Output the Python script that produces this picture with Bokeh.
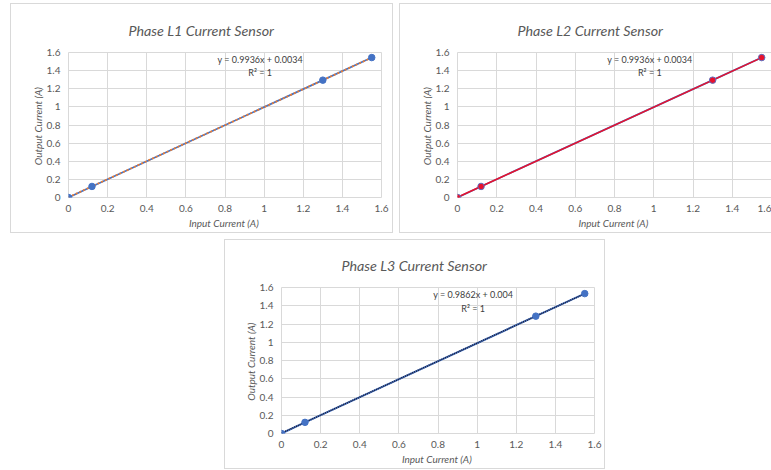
from bokeh.plotting import figure
from bokeh.layouts import column, row, Spacer
from bokeh.models import FixedTicker, Label
from bokeh.embed import file_html
from bokeh.resources import INLINE

# ---- data ----
input_current = [0.0, 0.12, 1.30, 1.55]
l1_output = [0.0, 0.122, 1.295, 1.544]
l2_output = [0.0, 0.122, 1.295, 1.544]
l3_output = [0.0, 0.122, 1.286, 1.533]

l1_slope, l1_intercept = 0.9936, 0.0034
l2_slope, l2_intercept = 0.9936, 0.0034
l3_slope, l3_intercept = 0.9862, 0.004

tick_values = [0, 0.2, 0.4, 0.6, 0.8, 1.0, 1.2, 1.4, 1.6]
tick_labels = ["0", "0.2", "0.4", "0.6", "0.8", "1", "1.2", "1.4", "1.6"]

titles = ["Phase L1 Current Sensor", "Phase L2 Current Sensor", "Phase L3 Current Sensor"]
eq_texts = ["y = 0.9936x + 0.0034", "y = 0.9936x + 0.0034", "y = 0.9862x + 0.004"]
r2_texts = ["R\u00b2 = 1", "R\u00b2 = 1", "R\u00b2 = 1"]
x_title = "Input Current  (A)"
y_title = "Output Current  (A)"

FONT = "Lato"
GRAY = "#595959"
GRID = "#d9d9d9"
BLUE = "#4472C4"


def make_panel(title, eq, r2, fw, fh, ml, mr, mt, mb, title_offset):
    styles = {"border": "1px solid #d9d9d9", "flex-shrink": "0"}
    p = figure(frame_width=fw, frame_height=fh, x_range=(0, 1.6), y_range=(0, 1.6),
               output_backend="svg", toolbar_location=None,
               min_border_left=ml, min_border_right=mr, min_border_top=mt, min_border_bottom=mb,
               background_fill_color="white", border_fill_color="white",
               outline_line_color=GRID, styles=styles)
    p.title.text = title
    p.title.align = "left"
    p.title.vertical_align = "top"
    p.title.offset = title_offset
    p.title.text_font = FONT
    p.title.text_font_style = "italic"
    p.title.text_font_size = "14.3px"
    p.title.text_color = GRAY
    p.title.standoff = 24
    for ax, lab in ((p.xaxis[0], x_title), (p.yaxis[0], y_title)):
        ax.ticker = FixedTicker(ticks=tick_values)
        ax.major_label_overrides = {v: t for v, t in zip(tick_values, tick_labels)}
        ax.axis_label = lab
        ax.axis_label_text_font = FONT
        ax.axis_label_text_font_style = "italic"
        ax.axis_label_text_font_size = "10px"
        ax.axis_label_text_color = GRAY
        ax.major_label_text_font = FONT
        ax.major_label_text_font_size = "10px"
        ax.major_label_text_color = GRAY
        ax.axis_line_color = None
        ax.major_tick_line_color = None
        ax.minor_tick_line_color = None
        ax.major_tick_out = 0
        ax.major_tick_in = 0
        ax.minor_tick_out = 0
        ax.minor_tick_in = 0
    p.xaxis.major_label_standoff = 7
    p.xaxis.axis_label_standoff = 2
    p.yaxis.major_label_standoff = 8
    p.yaxis.axis_label_standoff = 0
    p.xgrid.ticker = FixedTicker(ticks=tick_values)
    p.ygrid.ticker = FixedTicker(ticks=tick_values)
    p.grid.grid_line_color = GRID
    p.grid.grid_line_width = 1

    p.add_layout(Label(x=0.98, y=1.52, text=eq, text_align="center", text_baseline="middle",
                       text_font=FONT, text_font_size="9px", text_color="#404040"))
    p.add_layout(Label(x=0.98, y=1.375, text=r2, text_align="center", text_baseline="middle",
                       text_font=FONT, text_font_size="9px", text_color="#404040"))
    return p


def fit_line(slope, intercept):
    fx = [input_current[0], input_current[-1]]
    return fx, [slope * x + intercept for x in fx]


# Panel L1
p1 = make_panel(titles[0], eq_texts[0], r2_texts[0], 311, 143, 57, 13, 48, 37, 60)
p1.line(input_current, l1_output, line_color=BLUE, line_width=1.75)
fx, fy = fit_line(l1_slope, l1_intercept)
p1.line(fx, fy, line_color="#ED7D31", line_width=1.75, line_dash="2 2")
p1.scatter(input_current, l1_output, size=6.5, fill_color=BLUE, line_color=BLUE)

# Panel L2
p2 = make_panel(titles[1], eq_texts[1], r2_texts[1], 312, 143, 57, 2, 48, 37, 60)
p2.line(input_current, l2_output, line_color=BLUE, line_width=1.75)
fx, fy = fit_line(l2_slope, l2_intercept)
p2.line(fx, fy, line_color="#E8112D", line_width=1.6)
p2.scatter(input_current, l2_output, size=6.5, fill_color="#E8112D", line_color="#5B6FC0", line_width=1)

# Panel L3
p3 = make_panel(titles[2], eq_texts[2], r2_texts[2], 311, 144, 56, 12, 47, 37, 60)
p3.line(input_current, l3_output, line_color=BLUE, line_width=2)
fx, fy = fit_line(l3_slope, l3_intercept)
p3.line(fx, fy, line_color="#1a1a2e", line_width=1.5, line_dash="1 1")
p3.scatter(input_current, l3_output, size=6.5, fill_color=BLUE, line_color=BLUE)

top_row = row(Spacer(width=10), p1, Spacer(width=6), p2)
layout = column(
    Spacer(height=3),
    top_row,
    Spacer(height=6),
    row(Spacer(width=224), p3),
)

open("out.html", "w").write(file_html(layout, INLINE))
